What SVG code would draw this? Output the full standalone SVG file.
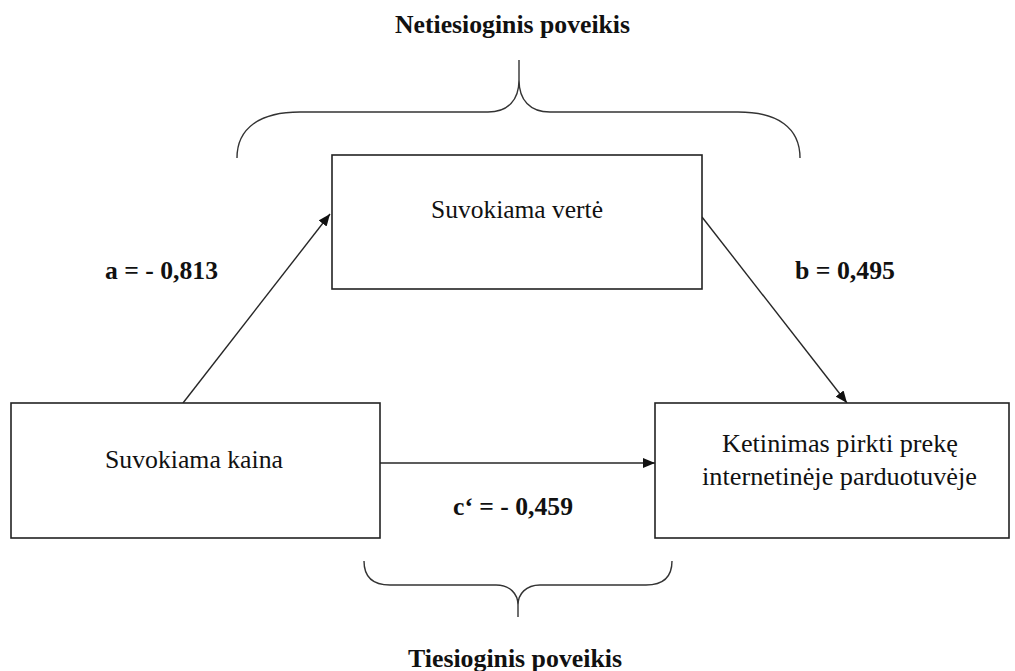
<svg xmlns="http://www.w3.org/2000/svg" width="1015" height="671" viewBox="0 0 1015 671">
  <style>
    .box { fill: #ffffff; stroke: #222222; stroke-width: 1.6; }
    .line { fill: none; stroke: #262626; stroke-width: 1.4; }
    .brace { fill: none; stroke: #333333; stroke-width: 1.4; }
    .lbl { font-family: 'Liberation Serif', 'Times New Roman', serif; font-size: 25px; fill: #111111; }
    .bold { font-weight: bold; }
  </style>
  <defs>
    <marker id="arrow" markerUnits="userSpaceOnUse" markerWidth="12" markerHeight="10" refX="12" refY="5" orient="auto">
      <path d="M0,0 L12,5 L0,10 z" fill="#111111"/>
    </marker>
  </defs>

  <rect width="1015" height="671" fill="#ffffff"/>

  <!-- braces and group labels -->
  <g id="indirect-effect">
    <path class="brace" d="M237,158 C237,128 260,112 300,112 L488,112 C508,112 519,100 519,80 L519,60 M519,80 C519,100 530,112 550,112 L738,112 C778,112 800,128 800,158"/>
    <text class="lbl bold" x="395" y="33" textLength="235" lengthAdjust="spacingAndGlyphs">Netiesioginis poveikis</text>
  </g>
  <g id="direct-effect">
    <path class="brace" d="M364,561 C364,576 372,585 390,585 L496,585 C510,585 518,594 518,605 L518,617 M518,605 C518,594 526,585 540,585 L646,585 C664,585 672,576 672,561"/>
    <text class="lbl bold" x="408" y="667" textLength="214" lengthAdjust="spacingAndGlyphs">Tiesioginis poveikis</text>
  </g>

  <!-- connectors -->
  <g id="connectors">
    <line class="line" x1="183" y1="403" x2="330" y2="214" marker-end="url(#arrow)"/>
    <line class="line" x1="702" y1="217" x2="847" y2="403" marker-end="url(#arrow)"/>
    <line class="line" x1="380" y1="463" x2="655" y2="463" marker-end="url(#arrow)"/>
    <text class="lbl bold" x="105" y="279" textLength="113" lengthAdjust="spacingAndGlyphs">a = - 0,813</text>
    <text class="lbl bold" x="795" y="279" textLength="100" lengthAdjust="spacingAndGlyphs">b = 0,495</text>
    <text class="lbl bold" x="453" y="515" textLength="120" lengthAdjust="spacingAndGlyphs">c‘ = - 0,459</text>
  </g>

  <!-- nodes -->
  <g id="node-value">
    <rect class="box" x="332" y="155" width="370" height="134"/>
    <text class="lbl" x="431" y="218" textLength="172" lengthAdjust="spacingAndGlyphs">Suvokiama vertė</text>
  </g>
  <g id="node-price">
    <rect class="box" x="11" y="403" width="369" height="135"/>
    <text class="lbl" x="105" y="468" textLength="178" lengthAdjust="spacingAndGlyphs">Suvokiama kaina</text>
  </g>
  <g id="node-intention">
    <rect class="box" x="655" y="403" width="354" height="135"/>
    <text class="lbl" x="722" y="452" textLength="236" lengthAdjust="spacingAndGlyphs">Ketinimas pirkti prekę</text>
    <text class="lbl" x="702" y="485" textLength="275" lengthAdjust="spacingAndGlyphs">internetinėje parduotuvėje</text>
  </g>
</svg>
